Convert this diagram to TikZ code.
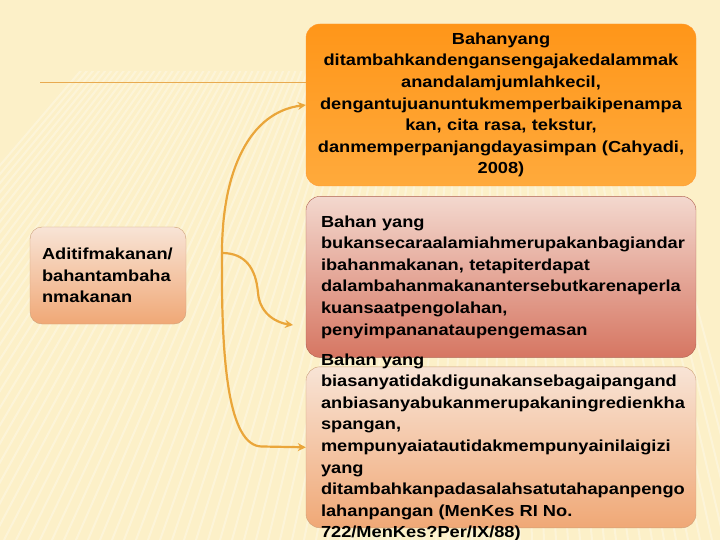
\documentclass[tikz,border=0pt]{standalone}
\usepackage{fontspec}
\setmainfont{Liberation Sans}[FakeStretch=1.14]
\usetikzlibrary{arrows.meta,positioning}
\hyphenpenalty=10000
\exhyphenpenalty=10000

\definecolor{slidebg}{RGB}{252,240,200}
\definecolor{linkorange}{RGB}{234,166,58}
\definecolor{ruleorange}{RGB}{232,170,80}

\begin{document}
\begin{tikzpicture}[
        x=1pt, y=-1pt,
        link/.style = {draw=linkorange, line width=2.2pt, -{Stealth[length=8pt,width=8pt]}},
        panel/.style = {rounded corners=14pt, minimum width=390pt, minimum height=161pt,
                        inner xsep=15pt, inner ysep=2pt, thin},
        txt/.style = {font=\fontsize{16}{21.6}\selectfont\bfseries},
        orangebox/.style = {panel, draw=orange!80!white, top color={rgb,255:red,255;green,150;blue,25},
                            bottom color={rgb,255:red,255;green,170;blue,60}},
        redbox/.style = {panel, draw={rgb,255:red,175;green,95;blue,80}, top color={rgb,255:red,243;green,216;blue,206},
                         bottom color={rgb,255:red,214;green,118;blue,98}},
        peachbox/.style = {draw={rgb,255:red,205;green,160;blue,120}, top color={rgb,255:red,248;green,228;blue,214},
                           bottom color={rgb,255:red,240;green,168;blue,118}, thin}
        ]

    % slide background
    \fill[slidebg] (0,0) rectangle (720,540);
    \useasboundingbox (0,0) rectangle (720,540);
    \begin{scope}
        \clip (0,72) rectangle (720,540);
        \foreach \x in {-320,-308,...,760}
            \draw[white, opacity=0.3, line width=2pt] (\x,540) -- ({\x+0.5*(500-\x)},60);
    \end{scope}
    \draw[ruleorange, line width=0.8pt] (40,82) -- (306,82);

    % boxes
    \node[txt, peachbox, rounded corners=12pt, align=left, text width=132pt, inner xsep=12pt,
          minimum height=97pt] (src) at (108,275.5)
        {Aditifmakanan/\\bahantambaha\\nmakanan};

    \node[txt, orangebox, align=center, text width=370pt, inner xsep=10pt, minimum height=162pt] (b1) at (501,105)
        {Bahanyang\\ditambahkandengansengajakedalammak\\anandalamjumlahkecil,\\
         dengantujuanuntukmemperbaikipenampa\\kan, cita rasa, tekstur,\\
         danmemperpanjangdayasimpan (Cahyadi,\\2008)};

    \node[txt, redbox, align=left, text width=360pt, below=10pt of b1] (b2)
        {Bahan yang\\bukansecaraalamiahmerupakanbagiandar\\ibahanmakanan, tetapiterdapat\\
         dalambahanmakanantersebutkarenaperla\\kuansaatpengolahan,\\penyimpananataupengemasan};

    % text runs past this box, so it sits on its own
    \node[panel, peachbox, rounded corners=14pt, below=9pt of b2] (b3) {};
    \node[txt, align=left, anchor=west, inner sep=0pt] (b3text) at ([xshift=15pt]b3.west)
        {Bahan yang\\biasanyatidakdigunakansebagaipangand\\anbiasanyabukanmerupakaningredienkha\\
         spangan,\\mempunyaiatautidakmempunyainilaigizi\\yang\\
         ditambahkanpadasalahsatutahapanpengo\\lahanpangan (MenKes RI No.\\722/MenKes?Per/IX/88)};

    % connectors
    \coordinate (fork) at (222,253);
    \coordinate (b2end) at (293,325);
    \draw[link] (fork) .. controls (222,170) and (250,112) .. (b1.west);
    \draw[link] (fork) .. controls (221,360) and (228,446.5) .. (262,446.5) -- (b3.west);
    \draw[link] (fork) .. controls (245,253) and (256,268) .. (258,293)
                       .. controls (260,315) and (278,323) .. (b2end);

\end{tikzpicture}
\end{document}
